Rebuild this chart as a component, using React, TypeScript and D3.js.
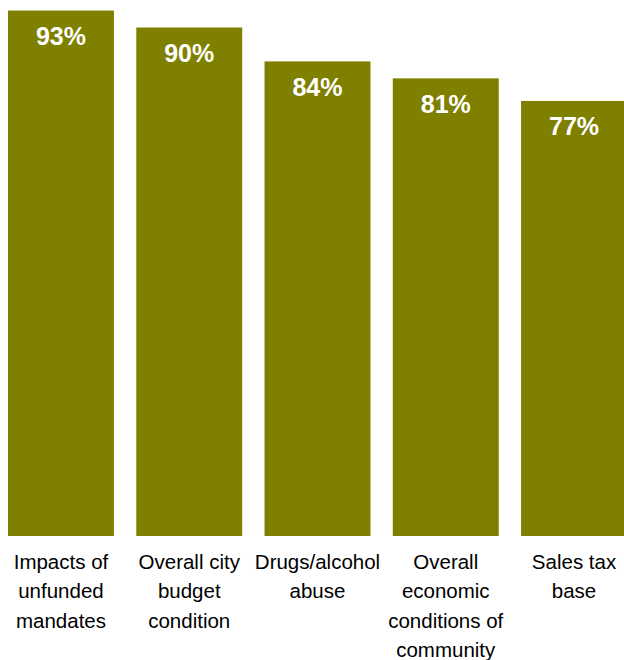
import React from "react";
import * as d3 from "d3";

const categories = [
  "Impacts of\nunfunded\nmandates",
  "Overall city\nbudget\ncondition",
  "Drugs/alcohol\nabuse",
  "Overall\neconomic\nconditions of\ncommunity",
  "Sales tax\nbase",
];
const values = [93, 90, 84, 81, 77];
const valueLabels = ["93%", "90%", "84%", "81%", "77%"];

const W = 624;
const H = 660;
const baseY = 536;
const FONT = "'Liberation Sans', Arial, Helvetica, sans-serif";
const OLIVE = "#808000";

export default function App() {
  const x = d3
    .scaleBand<number>()
    .domain(d3.range(categories.length))
    .range([8, 627])
    .paddingInner(0.174)
    .paddingOuter(0);
  const y = d3.scaleLinear().domain([0, 100]).range([baseY, baseY - 565]);

  return (
    <svg
      width={W}
      height={H}
      style={{ position: "absolute", left: 0, top: 0, background: "#fff" }}
      fontFamily={FONT}
    >
      <rect x={0} y={0} width={W} height={H} fill="#fff" />
      {values.map((v, i) => {
        const bx = x(i)!;
        const bw = x.bandwidth();
        const cx = bx + bw / 2;
        const top = y(v);
        return (
          <g key={i}>
            <rect x={bx} y={top} width={bw} height={baseY - top} fill={OLIVE} />
            <text
              x={cx}
              y={top + 34.5}
              textAnchor="middle"
              fill="#fff"
              fontWeight="bold"
              fontSize={25}
            >
              {valueLabels[i]}
            </text>
            <text x={cx} y={baseY + 33} textAnchor="middle" fill="#000" fontSize={20.5}>
              {categories[i].split("\n").map((line, j) => (
                <tspan key={j} x={cx} y={baseY + 33 + j * 29.3}>
                  {line}
                </tspan>
              ))}
            </text>
          </g>
        );
      })}
    </svg>
  );
}
